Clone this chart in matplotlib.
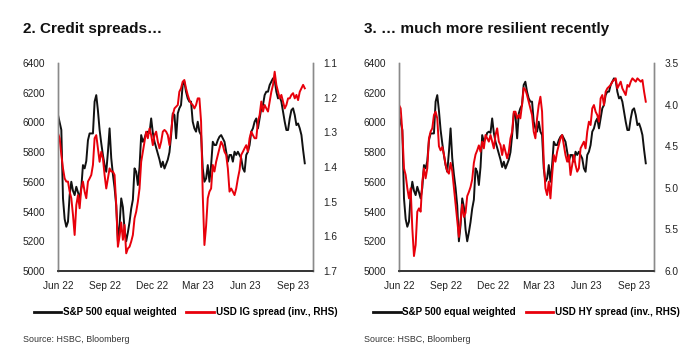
import numpy as np
import pandas as pd
import matplotlib
matplotlib.use("Agg")
import matplotlib.pyplot as plt
import matplotlib.dates as mdates
from matplotlib.ticker import FormatStrFormatter

# S&P 500 equal weighted, two segments
spx_a = [6050, 6000, 5950, 5489, 5350, 5298, 5332, 5511, 5601, 5540,
         5511, 5567, 5530, 5489, 5560, 5713, 5691, 5740, 5880, 5926,
         5926, 5926, 6140, 6184, 6080, 5950, 5860, 5780, 5713, 5668,
         5800, 5960, 5760, 5650, 5560, 5440, 5200, 5309, 5489, 5430,
         5280, 5200, 5260, 5330, 5420, 5480, 5691, 5668, 5579, 5700,
         5915, 5870, 5893, 5930, 5938, 5930, 6027, 5930, 5870, 5830,
         5790, 5750, 5700, 5736, 5690, 5720, 5750, 5800, 5915, 6061,
         6050, 5893, 6061]
spx_b = [6095, 6117, 6252, 6274, 6207, 6162, 6140, 6140, 6005, 5960,
         5938, 6005, 5938, 5915, 5691, 5601, 5623, 5713, 5601, 5713,
         5870, 5848, 5848, 5881, 5904, 5915, 5893, 5870, 5803, 5736,
         5781, 5781, 5736, 5803, 5781, 5803, 5781, 5758, 5691, 5668,
         5781, 5803, 5848, 5938, 5960, 6005, 6027, 5960, 6027, 6095,
         6117, 6184, 6207, 6207, 6252, 6274, 6297, 6285, 6207, 6162,
         6173, 6140, 6072, 6005, 5949, 5949, 6027, 6083, 6095, 6050,
         5982, 5993, 5960, 5915, 5814, 5725]

# USD IG spread
ig_a = [1.303, 1.317, 1.365, 1.404, 1.433, 1.442, 1.442, 1.471, 1.490, 1.538,
        1.596, 1.510, 1.481, 1.519, 1.462, 1.442, 1.471, 1.490, 1.442, 1.433,
        1.423, 1.394, 1.317, 1.308, 1.346, 1.385, 1.356, 1.375, 1.423, 1.462,
        1.433, 1.404, 1.413, 1.413, 1.423, 1.510, 1.630, 1.600, 1.560, 1.610,
        1.567, 1.649, 1.635, 1.630, 1.615, 1.596, 1.548, 1.529, 1.500, 1.462,
        1.385, 1.356, 1.327, 1.298, 1.317, 1.289, 1.308, 1.337, 1.308, 1.298,
        1.327, 1.346, 1.327, 1.298, 1.293, 1.298, 1.308, 1.337, 1.298, 1.250,
        1.231, 1.226, 1.221]
ig_b = [1.183, 1.173, 1.154, 1.149, 1.173, 1.192, 1.207, 1.216, 1.221, 1.231,
        1.221, 1.202, 1.202, 1.269, 1.481, 1.625, 1.570, 1.490, 1.471, 1.462,
        1.394, 1.413, 1.385, 1.365, 1.346, 1.327, 1.337, 1.356, 1.365, 1.404,
        1.471, 1.462, 1.471, 1.481, 1.462, 1.433, 1.409, 1.365, 1.356, 1.346,
        1.337, 1.356, 1.317, 1.298, 1.308, 1.317, 1.317, 1.269, 1.250, 1.211,
        1.240, 1.221, 1.231, 1.240, 1.211, 1.183, 1.163, 1.125, 1.163, 1.183,
        1.202, 1.192, 1.211, 1.231, 1.221, 1.202, 1.202, 1.192, 1.187, 1.202,
        1.192, 1.207, 1.183, 1.173, 1.163, 1.173]

# USD HY spread
hy_a = [4.005, 4.045, 4.325, 4.766, 4.846, 5.006, 5.127, 5.006, 5.487, 5.820,
        5.687, 5.287, 5.247, 5.287, 4.926, 4.766, 4.886, 4.766, 4.405, 4.325,
        4.285, 4.125, 4.085, 4.165, 4.500, 4.550, 4.510, 4.600, 4.720, 4.800,
        4.830, 4.700, 4.800, 5.000, 5.200, 5.400, 5.590, 5.400, 5.200, 5.350,
        5.300, 5.100, 5.050, 4.990, 4.900, 4.700, 4.600, 4.550, 4.490, 4.566,
        4.445, 4.526, 4.365, 4.405, 4.445, 4.365, 4.445, 4.526, 4.365, 4.285,
        4.445, 4.486, 4.606, 4.486, 4.566, 4.646, 4.566, 4.405, 4.325, 4.085,
        4.085, 4.165, 4.125]
hy_b = [4.165, 4.005, 3.800, 3.820, 3.885, 3.965, 4.045, 4.125, 4.325, 4.405,
        4.165, 4.005, 3.905, 4.085, 4.686, 5.006, 5.087, 4.926, 5.127, 4.846,
        4.606, 4.686, 4.566, 4.486, 4.405, 4.365, 4.486, 4.606, 4.686, 4.606,
        4.846, 4.726, 4.606, 4.726, 4.806, 4.766, 4.526, 4.486, 4.445, 4.526,
        4.325, 4.205, 4.245, 4.045, 4.005, 4.085, 4.125, 4.205, 3.925, 3.885,
        4.005, 3.845, 3.805, 3.785, 3.764, 3.724, 3.704, 3.684, 3.805, 3.764,
        3.724, 3.805, 3.845, 3.885, 3.764, 3.785, 3.724, 3.684, 3.704, 3.724,
        3.684, 3.704, 3.724, 3.704, 3.845, 3.965]

dates = pd.date_range("2022-06-01", "2023-01-20", periods=len(spx_a)).append(
    pd.date_range("2023-01-23", "2023-09-24", periods=len(spx_b)))
spx = spx_a + spx_b
ig = ig_a + ig_b
hy = hy_a + hy_b

tick_dates = pd.to_datetime(["2022-06-01", "2022-09-01", "2022-12-01",
                             "2023-03-01", "2023-06-01", "2023-09-01"])

RED = "#e8000b"
FONT = ["Liberation Sans", "DejaVu Sans"]
plt.rcParams["font.family"] = FONT

fig = plt.figure(figsize=(7.0, 3.63), dpi=100)


def panel(left, rhs, rhs_lim, rhs_ticks, rhs_label, title):
    ax = fig.add_axes([left, 0.2534, 0.3643, 0.5730])
    ax.plot(dates, spx, color="#111111", lw=1.4, label="S&P 500 equal weighted")
    ax.set_ylim(5000, 6400)
    ax.set_yticks(np.arange(5000, 6401, 200))
    ax.set_xlim(pd.Timestamp("2022-06-01"), pd.Timestamp("2023-10-10"))
    ax.set_xticks(tick_dates)
    ax.xaxis.set_major_formatter(mdates.DateFormatter("%b %y"))

    ax2 = ax.twinx()
    ax2.plot(dates, rhs, color=RED, lw=1.4, label=rhs_label)
    ax2.set_ylim(*rhs_lim)
    ax2.set_yticks(rhs_ticks)
    ax2.yaxis.set_major_formatter(FormatStrFormatter("%.1f"))

    for a in (ax, ax2):
        a.spines["top"].set_visible(False)
        a.spines["left"].set_color("#8a8a8a")
        a.spines["right"].set_color("#8a8a8a")
        a.spines["bottom"].set_color("#333333")
        a.spines["left"].set_linewidth(1.0)
        a.spines["right"].set_linewidth(1.0)
        a.spines["bottom"].set_linewidth(1.2)
    ax.tick_params(axis="y", length=0, pad=9, labelsize=7.3, colors="#222222")
    ax.tick_params(axis="x", length=0, pad=7, labelsize=7.3, colors="#222222")
    ax2.tick_params(axis="y", length=0, pad=7.5, labelsize=7.3, colors="#222222")

    h1, l1 = ax.get_legend_handles_labels()
    h2, l2 = ax2.get_legend_handles_labels()
    cx = left + 0.3643 / 2
    leg = fig.legend(h1 + h2, l1 + l2, loc="center", bbox_to_anchor=(cx, 1 - 312 / 363),
                     ncol=2, frameon=False, handlelength=2.8, handletextpad=0.15,
                     columnspacing=1.0, prop={"weight": "bold", "size": 7.1})
    for ln in leg.get_lines():
        ln.set_linewidth(2.0)

    fig.text(left - 35 / 700, 1 - 33 / 363, title, fontsize=11, fontweight="bold",
             color="#111111", va="baseline")
    fig.text(left - 35 / 700, 1 - 339 / 363, "Source: HSBC, Bloomberg", fontsize=6.4,
             color="#333333", va="center")
    return ax


panel(58 / 700, ig, (1.7, 1.1), np.arange(1.1, 1.71, 0.1),
      "USD IG spread (inv., RHS)", "2. Credit spreads\u2026")
panel(399 / 700, hy, (6.0, 3.5), np.arange(3.5, 6.01, 0.5),
      "USD HY spread (inv., RHS)", "3. \u2026 much more resilient recently")

fig.savefig("out.png", dpi=100)
